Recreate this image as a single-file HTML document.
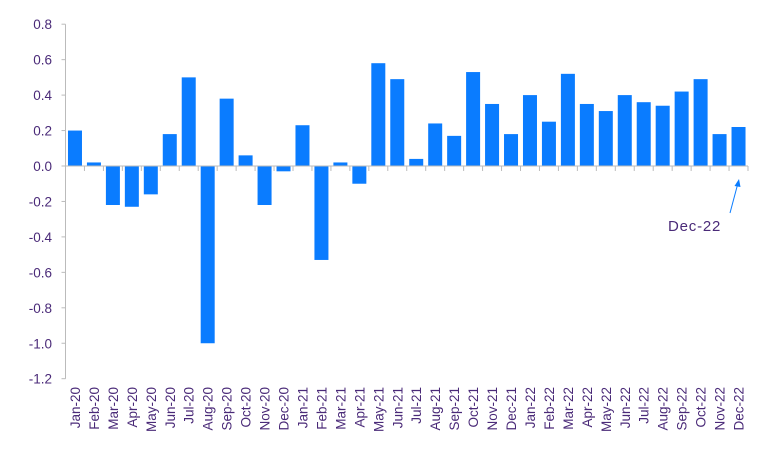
<!DOCTYPE html>
<html><head><meta charset="utf-8"><style>
body{margin:0;background:#fff;}
svg{display:block;font-family:"Liberation Sans",sans-serif;}
</style></head><body>
<svg id="c" width="768" height="471"></svg>
<script>
const categories=["Jan-20","Feb-20","Mar-20","Apr-20","May-20","Jun-20","Jul-20","Aug-20","Sep-20","Oct-20","Nov-20","Dec-20","Jan-21","Feb-21","Mar-21","Apr-21","May-21","Jun-21","Jul-21","Aug-21","Sep-21","Oct-21","Nov-21","Dec-21","Jan-22","Feb-22","Mar-22","Apr-22","May-22","Jun-22","Jul-22","Aug-22","Sep-22","Oct-22","Nov-22","Dec-22"];
const values=[0.20,0.02,-0.22,-0.23,-0.16,0.18,0.50,-1.00,0.38,0.06,-0.22,-0.03,0.23,-0.53,0.02,-0.10,0.58,0.49,0.04,0.24,0.17,0.53,0.35,0.18,0.40,0.25,0.52,0.35,0.31,0.40,0.36,0.34,0.42,0.49,0.18,0.22];
const yTicks=[0.8,0.6,0.4,0.2,0.0,-0.2,-0.4,-0.6,-0.8,-1.0,-1.2];
const NS="http://www.w3.org/2000/svg";
const svg=document.getElementById('c');
const L=65.5,R=748,y0=166,pxPer=35.45/0.2;
const bw=(R-L)/categories.length;
const y=v=>y0-v*pxPer;
const x=i=>L+i*bw;
function mk(t,a){const e=document.createElementNS(NS,t);for(const k in a)e.setAttribute(k,a[k]);svg.appendChild(e);return e;}
let ax=mk('line',{x1:L,x2:L,y1:y(0.8),y2:y(-1.2),stroke:'#bbb'});


yTicks.forEach(v=>{
 const tk=mk('line',{x1:L-4,x2:L,y1:y(v),y2:y(v),stroke:'#bbb'});
 
 
 const t=mk('text',{x:52,y:y(v)+5,'text-anchor':'end','font-size':13.5,fill:'#4a2a78'});
 t.textContent=v.toFixed(1);
 
 
});
values.forEach((v,i)=>{
 const cx=x(i)+bw/2;
 const b=mk('rect',{x:cx-7,width:14,y:Math.min(y(v),y0),height:Math.abs(y(v)-y0),fill:'#0a7cff'});
 
 
});
let zl=mk('line',{x1:L,x2:R,y1:y0,y2:y0,stroke:'#bbb'});


categories.forEach((c,i)=>{
 const tk=mk('line',{x1:x(i+1),x2:x(i+1),y1:y0,y2:y0+5,stroke:'#bbb'});
 
 
 const cx=x(i)+bw/2+5;
 const t=mk('text',{x:cx,y:387,'text-anchor':'end','font-size':13.5,fill:'#4a2a78',transform:`rotate(-90 ${cx} 387)`});
 t.textContent=c;
 
 
});
const an=mk('text',{x:668,y:231,'font-size':15,'letter-spacing':0.8,fill:'#4a2a78'});
an.textContent='Dec-22';


const ar=mk('line',{x1:730,y1:213,x2:738,y2:183,stroke:'#0a7cff','stroke-width':1});


const ah=mk('polygon',{points:'739,179 734.5,186 740.5,187',fill:'#0a7cff'});


</script>
</body></html>
